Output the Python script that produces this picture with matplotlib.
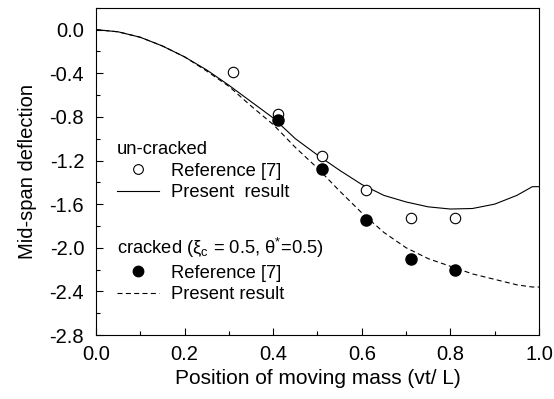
import matplotlib.pyplot as plt
from matplotlib.lines import Line2D
from matplotlib.ticker import MultipleLocator

plt.rcParams['font.family'] = ['Liberation Sans', 'DejaVu Sans']
plt.rcParams['mathtext.fontset'] = 'custom'
plt.rcParams['mathtext.rm'] = 'Liberation Sans'

# reference points [7]
ref_x = [0.31, 0.41, 0.51, 0.61, 0.71, 0.81]
ref_uncracked = [-0.39, -0.77, -1.16, -1.47, -1.73, -1.73]
ref_cx = [0.41, 0.51, 0.61, 0.71, 0.81]
ref_cracked = [-0.83, -1.28, -1.75, -2.10, -2.20]

# present result curves
curve_x = [0.0, 0.05, 0.1, 0.15, 0.2, 0.25, 0.3, 0.35, 0.4, 0.45, 0.5, 0.55,
           0.6, 0.65, 0.7, 0.75, 0.8, 0.85, 0.9, 0.95, 0.985, 1.0]
present_uncracked = [0.0, -0.02, -0.07, -0.15, -0.25, -0.37, -0.51, -0.66, -0.81,
                     -1.0, -1.15, -1.29, -1.42, -1.52, -1.58, -1.625, -1.645,
                     -1.64, -1.60, -1.52, -1.44, -1.44]
present_cracked = [0.0, -0.02, -0.07, -0.15, -0.25, -0.38, -0.52, -0.70, -0.87,
                   -1.08, -1.27, -1.48, -1.68, -1.86, -2.0, -2.10, -2.17,
                   -2.24, -2.29, -2.34, -2.36, -2.36]

fig = plt.figure(figsize=(5.54, 3.99), dpi=100)
ax = fig.add_axes([0.1733, 0.1604, 0.7996, 0.82])

dash = (4.5, 3)
ax.plot(curve_x, present_uncracked, color='black', lw=0.8)
ax.plot(curve_x, present_cracked, color='black', lw=0.8, dashes=dash)
ax.plot(ref_x, ref_uncracked, 'o', ms=7.5, mfc='white', mec='black', mew=0.8)
ax.plot(ref_cx, ref_cracked, 'o', ms=8, mfc='black', mec='black')

ax.set_xlim(0.0, 1.0)
ax.set_ylim(-2.8, 0.2)
ax.xaxis.set_major_locator(MultipleLocator(0.2))
ax.xaxis.set_minor_locator(MultipleLocator(0.1))
ax.yaxis.set_major_locator(MultipleLocator(0.4))
ax.yaxis.set_minor_locator(MultipleLocator(0.2))
ax.xaxis.set_major_formatter(lambda v, p: f'{v:.1f}')
ax.yaxis.set_major_formatter(lambda v, p: f'{v:.1f}')
ax.tick_params(which='both', direction='in', top=False, right=False,
               labelsize=14.5, width=0.8)
ax.tick_params(which='major', length=5)
ax.tick_params(which='minor', length=3)
ax.tick_params(axis='x', which='major', pad=7)
ax.tick_params(axis='y', which='major', pad=8.5)
for s in ax.spines.values():
    s.set_linewidth(0.8)

ax.set_xlabel('Position of moving mass (vt/ L)', fontsize=15, labelpad=4)
ax.set_ylabel('Mid-span deflection', fontsize=14.5, labelpad=9)

# legends
h1 = [Line2D([], [], ls='none', marker='o', ms=7, mfc='white', mec='black', mew=0.8),
      Line2D([], [], color='black', lw=0.8)]
h2 = [Line2D([], [], ls='none', marker='o', ms=7.5, mfc='black', mec='black'),
      Line2D([], [], color='black', lw=0.8, dashes=dash)]
common = dict(loc='upper left', frameon=False, fontsize=13.2, title_fontsize=13.2,
              handlelength=2.3, handletextpad=0.65, labelspacing=0.25,
              borderpad=0, borderaxespad=0, alignment='left')
leg1 = ax.legend(h1, ['Reference [7]', 'Present  result'], title='un-cracked',
                 bbox_to_anchor=(0.047, 0.593), **common)
ax.add_artist(leg1)
ax.legend(h2, ['Reference [7]', 'Present result'],
          title='cracked (ξ$_\\mathregular{c}$ = 0.5, θ$^\\mathregular{*}$=0.5)',
          bbox_to_anchor=(0.047, 0.303), **common)

plt.savefig('out.png', dpi=100)
